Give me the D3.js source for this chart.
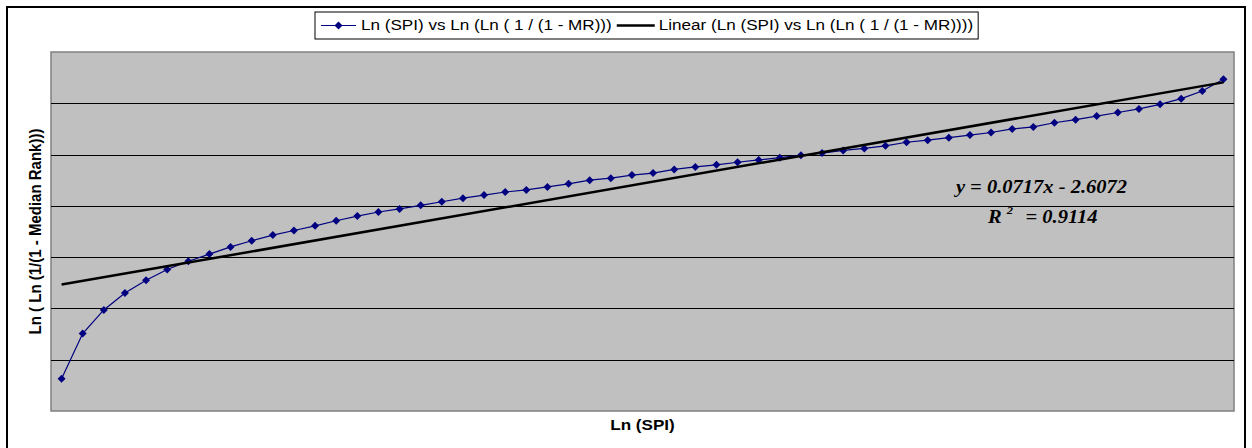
<!DOCTYPE html>
<html>
<head>
<meta charset="utf-8">
<script src="https://cdn.jsdelivr.net/npm/d3@7"></script>
<style>
  html, body { margin: 0; padding: 0; background: #ffffff; }
  svg { display: block; }
</style>
</head>
<body>
<svg id="chart" width="1252" height="448"></svg>
<script>
// Point number along the category axis (Excel line chart positions)
const pointIndex = [
  1, 2, 3, 4, 5, 6, 7, 8, 9, 10, 11, 12, 13, 14, 15, 16, 17, 18, 19, 20,
  21, 22, 23, 24, 25, 26, 27, 28, 29, 30, 31, 32, 33, 34, 35, 36, 37, 38, 39, 40,
  41, 42, 43, 44, 45, 46, 47, 48, 49, 50, 51, 52, 53, 54, 55, 56
];

// Ln(Ln(1/(1 - Median Rank))) for each point
const lnLnMR = [
  -4.37, -3.49, -3.03, -2.70, -2.45, -2.24, -2.08, -1.94, -1.80, -1.68,
  -1.57, -1.48, -1.39, -1.29, -1.20, -1.12, -1.06, -0.99, -0.92, -0.85,
  -0.79, -0.73, -0.69, -0.63, -0.57, -0.50, -0.46, -0.40, -0.36, -0.29,
  -0.24, -0.20, -0.15, -0.105, -0.06, -0.014, 0.03, 0.08, 0.12, 0.17,
  0.24, 0.28, 0.33, 0.38, 0.43, 0.50, 0.54, 0.62, 0.68, 0.75,
  0.82, 0.89, 0.98, 1.09, 1.24, 1.47
];

// Linear trendline coefficients
const trendSlope = 0.0717;
const trendIntercept = -2.6072;
const rSquared = 0.9114;

// Value-axis gridline positions
const gridValues = [-4, -3, -2, -1, 0, 1];
const yDomain = [-5, 2];

const seriesName = "Ln (SPI) vs Ln (Ln ( 1 / (1 - MR)))";
const trendName = "Linear (Ln (SPI) vs Ln (Ln ( 1 / (1 - MR))))";
const xTitle = "Ln (SPI)";
const yTitle = "Ln ( Ln (1/(1 - Median Rank)))";

const svg = d3.select("#chart");
const plot = { left: 51, top: 52, right: 1234, bottom: 411 };
const stretch = 1.14; // horizontal stretch applied to all chart text

// Outer chart frame
svg.append("rect")
  .attr("x", 7).attr("y", 7)
  .attr("width", 1238).attr("height", 460)
  .attr("fill", "#ffffff")
  .attr("stroke", "#000000").attr("stroke-width", 2);

const x = d3.scaleBand()
  .domain(pointIndex)
  .range([plot.left, plot.right])
  .padding(0);
const cx = d => x(d) + x.bandwidth() / 2;

const y = d3.scaleLinear()
  .domain(yDomain)
  .range([plot.bottom, plot.top]);

// Plot area
svg.append("rect")
  .attr("x", plot.left).attr("y", plot.top)
  .attr("width", plot.right - plot.left)
  .attr("height", plot.bottom - plot.top)
  .attr("fill", "#c0c0c0")
  .attr("stroke", "#808080").attr("stroke-width", 1.5);

// Gridlines
const grid = svg.append("g")
  .attr("transform", `translate(${plot.left},0)`)
  .call(d3.axisLeft(y)
    .tickValues(gridValues)
    .tickSize(-(plot.right - plot.left))
    .tickFormat(""));
grid.select(".domain").remove();
grid.selectAll(".tick line")
  .attr("stroke", "#000000")
  .attr("stroke-width", 1)
  .attr("shape-rendering", "crispEdges");

// Data series line
const line = d3.line()
  .x((d, i) => cx(pointIndex[i]))
  .y(d => y(d));

svg.append("path")
  .datum(lnLnMR)
  .attr("d", line)
  .attr("fill", "none")
  .attr("stroke", "#000080")
  .attr("stroke-width", 1.2);

// Diamond markers
const diamond = d3.symbol().type(d3.symbolSquare).size(32);
svg.append("g").selectAll("path")
  .data(lnLnMR)
  .join("path")
  .attr("d", diamond)
  .attr("transform", (d, i) => `translate(${cx(pointIndex[i])},${y(d)}) rotate(45)`)
  .attr("fill", "#000080");

// Linear trendline
const first = pointIndex[0];
const last = pointIndex[pointIndex.length - 1];
svg.append("line")
  .attr("x1", cx(first)).attr("y1", y(trendSlope * first + trendIntercept))
  .attr("x2", cx(last)).attr("y2", y(trendSlope * last + trendIntercept))
  .attr("stroke", "#000000")
  .attr("stroke-width", 2.5);

// Trendline equation
const eq = svg.append("g")
  .attr("font-family", "'Liberation Serif', 'Times New Roman', serif")
  .attr("font-weight", "bold")
  .attr("font-style", "italic")
  .attr("font-size", 18)
  .attr("fill", "#000000");
eq.append("text")
  .attr("transform", `translate(1041.5,193) scale(${stretch},1)`)
  .attr("text-anchor", "middle")
  .text(`y = ${trendSlope}x - ${Math.abs(trendIntercept)}`);
const r2 = eq.append("text")
  .attr("transform", `translate(988,223) scale(${stretch},1)`);
r2.append("tspan").text("R");
r2.append("tspan").attr("dx", 4.4).attr("dy", -9).attr("font-size", 11).text("2");
r2.append("tspan").attr("dx", 11).attr("dy", 9).text(`= ${rSquared}`);

// Axis titles
svg.append("text")
  .attr("transform", `translate(${(plot.left + plot.right) / 2},429.5) scale(${stretch},1)`)
  .attr("text-anchor", "middle")
  .attr("font-family", "'Liberation Sans', Arial, sans-serif")
  .attr("font-weight", "bold")
  .attr("font-size", 15)
  .text(xTitle);

svg.append("text")
  .attr("transform", `translate(40.5,${(plot.top + plot.bottom) / 2}) scale(${stretch},1) rotate(-90)`)
  .attr("text-anchor", "middle")
  .attr("font-family", "'Liberation Sans', Arial, sans-serif")
  .attr("font-weight", "bold")
  .attr("font-size", 15)
  .text(yTitle);

// Legend
const legend = svg.append("g")
  .attr("font-family", "'Liberation Sans', Arial, sans-serif")
  .attr("font-size", 15);
const legBox = legend.append("rect")
  .attr("x", 315).attr("y", 12)
  .attr("height", 27)
  .attr("fill", "#ffffff")
  .attr("stroke", "#000000").attr("stroke-width", 1);

let lx = 321;
legend.append("line")
  .attr("x1", lx).attr("x2", lx + 35).attr("y1", 25.5).attr("y2", 25.5)
  .attr("stroke", "#000080").attr("stroke-width", 1.2);
legend.append("path")
  .attr("d", diamond)
  .attr("transform", `translate(${lx + 17.5},25.5) rotate(45)`)
  .attr("fill", "#000080");
lx += 40;
const t1 = legend.append("text")
  .attr("transform", `translate(${lx},30) scale(${stretch},1)`)
  .text(seriesName);
lx += t1.node().getComputedTextLength() * stretch + 5;
legend.append("line")
  .attr("x1", lx).attr("x2", lx + 38).attr("y1", 25.5).attr("y2", 25.5)
  .attr("stroke", "#000000").attr("stroke-width", 2.5);
lx += 42;
const t2 = legend.append("text")
  .attr("transform", `translate(${lx},30) scale(${stretch},1)`)
  .text(trendName);
lx += t2.node().getComputedTextLength() * stretch + 5;
legBox.attr("width", lx - 315);
</script>
</body>
</html>
